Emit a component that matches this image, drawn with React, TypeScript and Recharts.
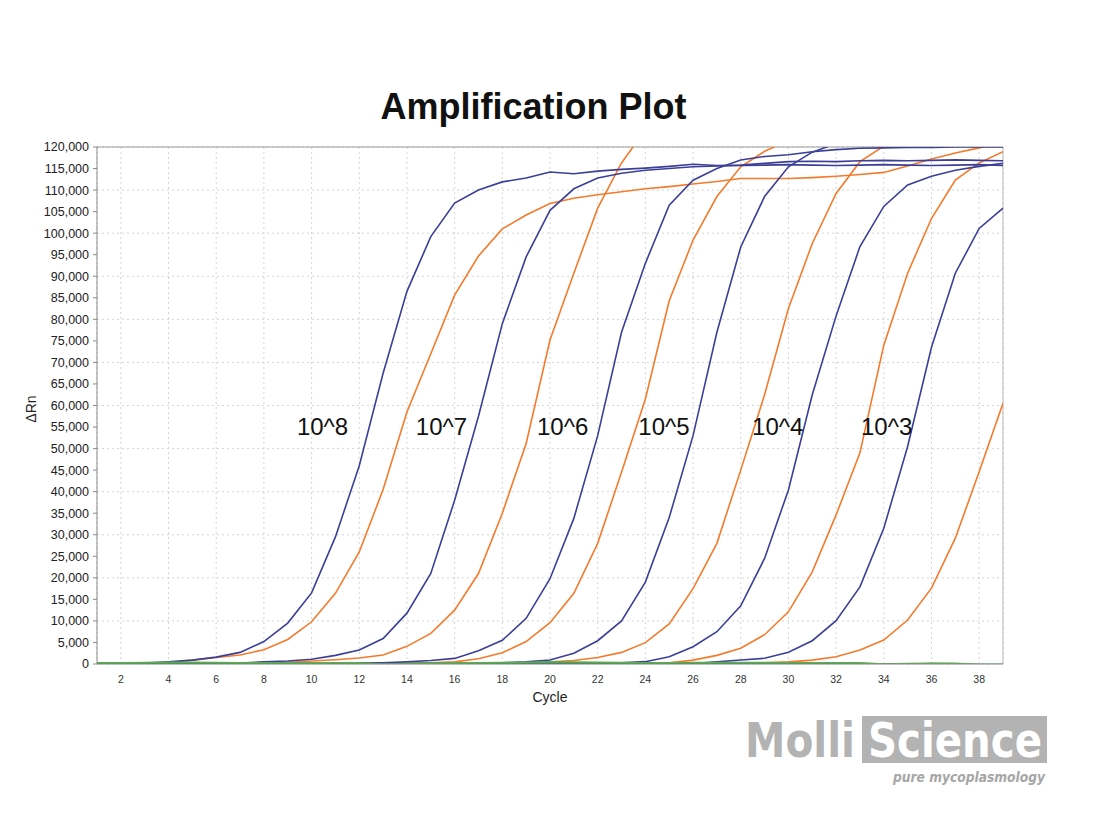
import { LineChart, Line, XAxis, YAxis, CartesianGrid, ReferenceLine, ReferenceDot } from 'recharts';

// PCR cycle numbers (x axis)
const cycles = [1, 2, 3, 4, 5, 6, 7, 8, 9, 10, 11, 12, 13, 14, 15, 16, 17, 18, 19, 20, 21, 22, 23, 24, 25, 26, 27, 28, 29, 30, 31, 32, 33, 34, 35, 36, 37, 38, 39];

// delta Rn per cycle, blue replicate of each dilution
const blue8 = [100, 100, 200, 500, 900, 1600, 2700, 5200, 9500, 16500, 29500, 46000, 67500, 86500, 99200, 107000, 110000, 111900, 112800, 114200, 113800, 114400, 114800, 115100, 115500, 116000, 115700, 115800, 116200, 116600, 116700, 116600, 116800, 116900, 116800, 116900, 117000, 116900, 116800];
const blue7 = [0, 0, 0, 100, 100, 200, 200, 500, 700, 1100, 2000, 3250, 5900, 11800, 21000, 38000, 57500, 79000, 94500, 105300, 110300, 112800, 113900, 114600, 115000, 115400, 115600, 115700, 115800, 115900, 115800, 115700, 115800, 115900, 115800, 115700, 115800, 115900, 115700];
const blue6 = [0, 0, 0, 0, 0, 100, 100, 100, 100, 200, 200, 200, 300, 500, 800, 1300, 3100, 5500, 10600, 19800, 33800, 53000, 77000, 93000, 106500, 112300, 115000, 117000, 117800, 118200, 118900, 119400, 119700, 119800, 119900, 119900, 120000, 120000, 120000];
const blue5 = [0, 0, 0, 0, 0, 0, 0, 0, 0, 0, 100, 100, 100, 100, 100, 100, 200, 300, 500, 930, 2500, 5400, 10000, 19000, 34000, 53000, 77000, 96800, 108500, 115400, 118800, 120800, 121500, 122000, 122000, 122200, 122300, 122400, 122500];
const blue4 = [0, 0, 0, 0, 0, 0, 0, 0, 0, 0, 0, 0, 0, 0, 0, 0, 0, 0, 0, 100, 100, 100, 300, 540, 1700, 4000, 7500, 13500, 24500, 40400, 62500, 80800, 96900, 106200, 111200, 113200, 114600, 115500, 116200];
const blue3 = [0, 0, 0, 0, 0, 0, 0, 0, 0, 0, 0, 0, 0, 0, 0, 0, 0, 0, 0, 0, 0, 0, 0, 0, 100, 100, 500, 930, 1320, 2720, 5400, 10050, 17900, 31500, 50500, 73500, 90700, 101100, 105800];

// orange replicate of each dilution
const orange8 = [0, 0, 100, 300, 900, 1500, 2100, 3300, 5700, 9800, 16400, 26000, 40500, 58500, 72000, 85600, 94700, 101000, 104200, 106900, 108100, 108900, 109600, 110300, 110800, 111400, 112000, 112700, 112700, 112700, 112900, 113200, 113600, 114100, 115600, 117200, 118600, 119800, 121000];
const orange7 = [0, 0, 0, 0, 0, 0, 100, 200, 400, 700, 1000, 1400, 2100, 4100, 7100, 12500, 21000, 35000, 51200, 75200, 90700, 105800, 116300, 124000, 127000, 129000, 130000, 130500, 131000, 131000, 131000, 131000, 131000, 131000, 131000, 131000, 131000, 131000, 131000];
const orange6 = [0, 0, 0, 0, 0, 0, 0, 0, 0, 0, 0, 100, 100, 100, 300, 500, 1200, 2600, 5200, 9600, 16400, 28000, 44500, 61500, 84300, 98400, 108500, 115400, 119000, 121500, 123000, 124000, 124500, 125000, 125000, 125000, 125000, 125000, 125000];
const orange5 = [0, 0, 0, 0, 0, 0, 0, 0, 0, 0, 0, 0, 0, 0, 0, 0, 100, 200, 300, 500, 800, 1500, 2700, 4950, 9300, 17500, 28000, 45000, 62500, 82500, 97600, 109200, 116600, 120200, 123000, 125000, 125000, 125000, 125000];
const orange4 = [0, 0, 0, 0, 0, 0, 0, 0, 0, 0, 0, 0, 0, 0, 0, 0, 0, 0, 0, 0, 100, 100, 200, 200, 300, 900, 2000, 3640, 6800, 12100, 21400, 34600, 49000, 74000, 90700, 103400, 112300, 116300, 118900];
const orange3 = [0, 0, 0, 0, 0, 0, 0, 0, 0, 0, 0, 0, 0, 0, 0, 0, 0, 0, 0, 0, 0, 0, 0, 0, 0, 100, 100, 200, 300, 500, 900, 1700, 3250, 5570, 10200, 17600, 29200, 44600, 60500];

// no template controls
const ntcA = [300, 300, 350, 400, 400, 350, 300, 300, 250, 250, 300, 250, 0, 100, 200, 250, 300, 350, 400, 500, 450, 400, 350, 300, 300, 350, 350, 350, 350, 300, 300, 300, 250, 0, 100, 150, 150, -100, -100];
const ntcB = [150, 150, 200, 200, 150, 150, 150, 100, 100, 150, 150, 100, 0, 100, 150, 150, 200, 200, 250, 300, 250, 200, 200, 150, 150, 200, 200, 150, 150, 150, 150, 150, 100, 0, 0, 100, 50, -100, -100];

const dilutions = ['10^8', '10^7', '10^6', '10^5', '10^4', '10^3'];
const dilutionCycles = [10.46, 15.45, 20.53, 24.78, 29.55, 34.12];

const yTicks = [0, 5000, 10000, 15000, 20000, 25000, 30000, 35000, 40000, 45000, 50000, 55000, 60000, 65000, 70000, 75000, 80000, 85000, 90000, 95000, 100000, 105000, 110000, 115000, 120000];
const xTicks = [2, 4, 6, 8, 10, 12, 14, 16, 18, 20, 22, 24, 26, 28, 30, 32, 34, 36, 38];

const blueSeries = [blue8, blue7, blue6, blue5, blue4, blue3];
const orangeSeries = [orange8, orange7, orange6, orange5, orange4, orange3];

const data = cycles.map((c, i) => {
  const row: Record<string, number> = { cycle: c, ntcA: ntcA[i], ntcB: ntcB[i] };
  blueSeries.forEach((s, k) => (row['b' + k] = s[i]));
  orangeSeries.forEach((s, k) => (row['o' + k] = s[i]));
  return row;
});

const BLUE = '#3b3f98';
const ORANGE = '#f47b2c';
const FONT = '"Liberation Sans", Arial, sans-serif';
const LOGO_FONT = '"DejaVu Sans", sans-serif';

export default function App() {
  return (
    <div style={{ position: 'absolute', left: 0, top: 0, width: 1106, height: 829, background: '#fff', fontFamily: FONT }}>
      <LineChart
        width={1106}
        height={829}
        data={data}
        margin={{ top: 147, right: 103, bottom: 125, left: 37 }}
      >
        <CartesianGrid strokeDasharray="2 3" stroke="#d4d4d4" />
        <XAxis
          dataKey="cycle"
          type="number"
          domain={[1, 39]}
          ticks={xTicks}
          allowDataOverflow
          height={40}
          tickLine={false}
          tickSize={6}
          tickMargin={6}
          axisLine={{ stroke: '#8a8a8a' }}
          tick={{ fontSize: 10.5, fill: '#333', fontFamily: FONT }}
          label={{ value: 'Cycle', position: 'insideBottom', offset: 2, fontSize: 14, fill: '#222', fontFamily: FONT }}
        />
        <YAxis
          type="number"
          domain={[0, 120000]}
          ticks={yTicks}
          allowDataOverflow
          width={60}
          tickSize={4}
          tickMargin={4}
          axisLine={{ stroke: '#8a8a8a' }}
          tickLine={{ stroke: '#8a8a8a' }}
          tickFormatter={(v: number) => v.toLocaleString('en-US')}
          tick={{ fontSize: 12.5, fill: '#222', fontFamily: FONT }}
        />
        <ReferenceLine y={120000} stroke="#999" />
        <ReferenceLine x={39} stroke="#bbb" />
        {orangeSeries.map((_, k) => (
          <Line key={'o' + k} dataKey={'o' + k} stroke={ORANGE} strokeWidth={1.6} dot={false} isAnimationActive={false} />
        ))}
        {blueSeries.map((_, k) => (
          <Line key={'b' + k} dataKey={'b' + k} stroke={BLUE} strokeWidth={1.6} dot={false} isAnimationActive={false} />
        ))}
        <Line dataKey="ntcB" stroke="#2f8a50" strokeWidth={1.6} dot={false} isAnimationActive={false} />
        <Line dataKey="ntcA" stroke="#55b045" strokeWidth={1.6} dot={false} isAnimationActive={false} />
        {dilutions.map((d, k) => (
          <ReferenceDot
            key={d}
            x={dilutionCycles[k]}
            y={55200}
            r={0}
            fill="none"
            stroke="none"
            label={{ value: d, position: 'center', fontSize: 24, fill: '#111', fontFamily: FONT }}
          />
        ))}
      </LineChart>
      <svg width={1106} height={829} style={{ position: 'absolute', left: 0, top: 0, pointerEvents: 'none' }}>
        <text x={533.5} y={119} textAnchor="middle" fontSize={36} fontWeight="bold" fill="#111" fontFamily={FONT}>
          Amplification Plot
        </text>
        <text x={0} y={0} transform="translate(36 409) rotate(-90)" textAnchor="middle" fontSize={14} fill="#222" fontFamily={FONT}>
          ΔRn
        </text>
        <text x={745} y={757} fontSize={48} fontWeight="bold" fill="#b3b3b3" fontFamily={LOGO_FONT} textLength={110} lengthAdjust="spacingAndGlyphs">
          Molli
        </text>
        <rect x={862} y={716} width={185} height={47} fill="#b3b3b3" />
        <text x={868} y={757} fontSize={48} fontWeight="bold" fill="#fff" fontFamily={LOGO_FONT} textLength={174} lengthAdjust="spacingAndGlyphs">
          Science
        </text>
        <text x={1045} y={782} textAnchor="end" fontSize={13.5} fontStyle="italic" fontWeight="bold" fill="#a6a6a6" fontFamily={LOGO_FONT} textLength={152} lengthAdjust="spacingAndGlyphs">
          pure mycoplasmology
        </text>
      </svg>
    </div>
  );
}
